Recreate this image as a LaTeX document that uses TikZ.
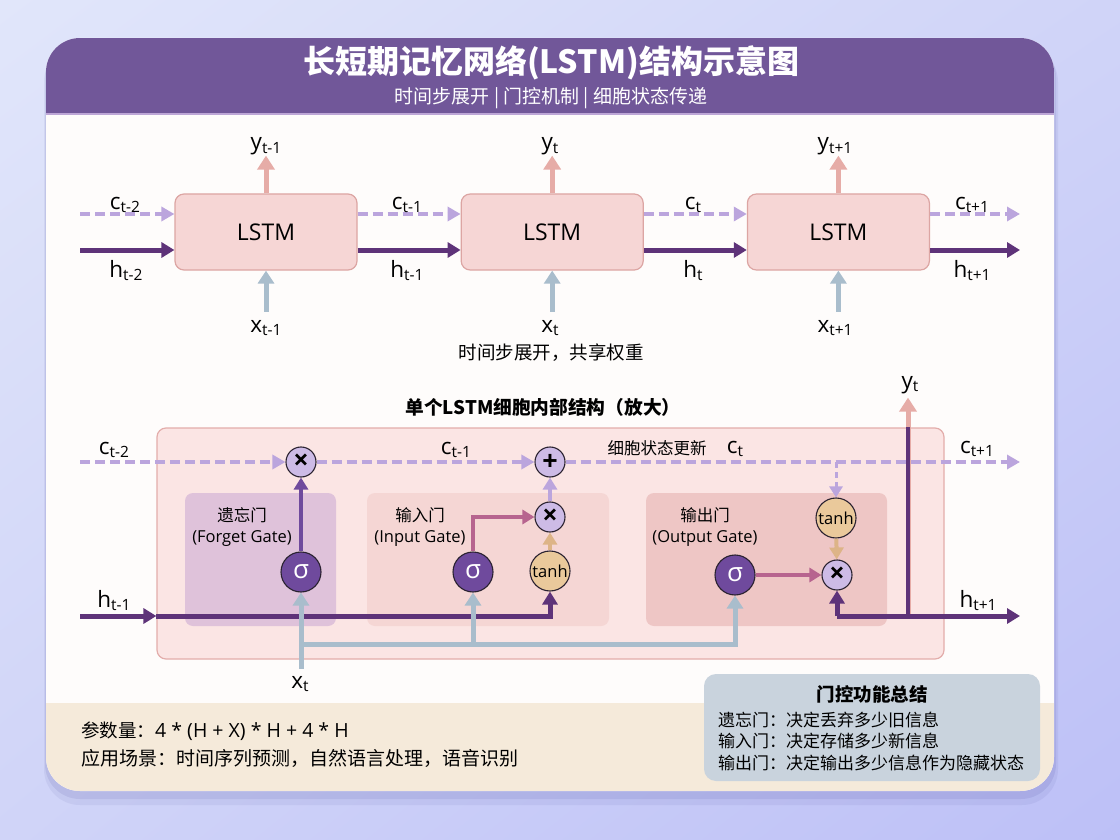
\documentclass[tikz,border=0pt]{standalone}
\usepackage{fontspec}
\setmainfont{Open Sans}
\newfontfamily\cjk{Noto Sans CJK SC}
\usepackage{tikz}
\usetikzlibrary{positioning,arrows.meta,calc,shadings}

\definecolor{bgtop}{HTML}{E1E6FA}
\definecolor{bgmid}{HTML}{D0D4F8}
\definecolor{bgbot}{HTML}{BDC0F7}
\definecolor{headpurple}{HTML}{715799}
\definecolor{headline}{HTML}{BDA6D6}
\definecolor{paper}{HTML}{FEFCFB}
\definecolor{footbeige}{HTML}{F5EADA}
\definecolor{lstmfill}{HTML}{F6D6D5}
\definecolor{lstmedge}{HTML}{DCA5A3}
\definecolor{cstate}{HTML}{BBA5DD}
\definecolor{hstate}{HTML}{5E3379}
\definecolor{yout}{HTML}{E6ACA7}
\definecolor{xin}{HTML}{A9BDCC}
\definecolor{cellfill}{HTML}{FBE5E4}
\definecolor{celledge}{HTML}{E3ADAB}
\definecolor{forgetfill}{HTML}{DFC2DA}
\definecolor{inputfill}{HTML}{F5D6D4}
\definecolor{outputfill}{HTML}{EEC6C5}
\definecolor{opfill}{HTML}{CDBBE6}
\definecolor{sigfill}{HTML}{6F4A9D}
\definecolor{tanhfill}{HTML}{EAC99B}
\definecolor{gatelink}{HTML}{B7648F}
\definecolor{tanhlink}{HTML}{DDB487}
\definecolor{sumfill}{HTML}{C9D3DD}
\definecolor{inkdark}{HTML}{2A2230}

\newcommand{\sublbl}[2]{#1\raisebox{-3pt}{\fontsize{15.5}{16}\selectfont #2}}

\begin{document}
\begin{tikzpicture}[
    x=1pt, y=-1pt,
    node distance=103pt,
    lstmbox/.style={
        draw=lstmedge,
        fill=lstmfill,
        line width=1.2pt,
        rounded corners=9pt,
        minimum width=182pt,
        minimum height=76pt,
        font=\fontsize{23}{26}\selectfont
    },
    lbl/.style={anchor=base, inner sep=0pt, font=\fontsize{22.5}{24}\selectfont},
    cjktxt/.style={inner sep=0pt, font=\cjk\fontsize{#1}{#1}\selectfont},
    hflow/.style={draw=hstate, line width=5pt, -{Triangle[length=13pt,width=15pt]}},
    cflow/.style={draw=cstate, line width=4pt, dash pattern=on 10pt off 5pt, -{Triangle[length=13pt,width=14pt]}},
    yflow/.style={draw=yout, line width=5pt, -{Triangle[length=14pt,width=17pt]}},
    xflow/.style={draw=xin, line width=5pt, -{Triangle[length=13pt,width=16pt]}},
    gatebox/.style={rounded corners=8pt, minimum height=133pt},
    opnode/.style={circle, draw=inkdark, line width=1.1pt, fill=opfill, minimum size=30pt, inner sep=0pt, font=\bfseries\fontsize{27}{27}\selectfont},
    signode/.style={circle, draw=inkdark, line width=1.1pt, fill=sigfill, text=white, minimum size=40pt, inner sep=0pt, font=\fontsize{26}{26}\selectfont},
    tanhnode/.style={circle, draw=inkdark, line width=1.1pt, fill=tanhfill, minimum size=40pt, inner sep=0pt, font=\fontsize{16.5}{16.5}\selectfont},
    gatelbl/.style={align=center, inner sep=0pt, font=\fontsize{16.5}{21}\selectfont},
    gateflow/.style={line width=4pt, -{Triangle[length=12pt,width=14pt]}},
    sumline/.style={anchor=west, inner sep=0pt, font=\cjk\fontsize{17}{17}\selectfont}
]

% background and card
\useasboundingbox (0,0) rectangle (1120,840);
\shade[upper left=bgtop, upper right=bgmid, lower left=bgmid, lower right=bgbot] (0,0) rectangle (1120,840);
\fill[blue!40!black, opacity=0.05, rounded corners=36pt] (44,46) rectangle (1058,805);
\fill[blue!40!black, opacity=0.07, rounded corners=35pt] (45,42) rectangle (1056,799);
\fill[paper, rounded corners=34pt] (46,38) rectangle (1054,791);
\begin{scope}
    \clip[rounded corners=34pt] (46,38) rectangle (1054,791);
    \fill[headpurple] (46,38) rectangle (1054,113);
    \fill[headline] (46,113) rectangle (1054,115.5);
    \fill[footbeige] (46,703) rectangle (1054,791);
\end{scope}

\node[text=white, font=\cjk\bfseries\fontsize{32}{36}\selectfont] (title) at (551,63) {长短期记忆网络(LSTM)结构示意图};
\node[text=white, cjktxt=19] (subtitle) at (551,98) {时间步展开 | 门控机制 | 细胞状态传递};

% unrolled chain
\node[lstmbox] (cellA) at (266,232) {LSTM};
\node[lstmbox, right=of cellA] (cellB) {LSTM};
\node[lstmbox, right=of cellB] (cellC) {LSTM};

\coordinate (cin) at (80,214);
\coordinate (hin) at (80,250);
\coordinate (cout) at (1020,214);
\coordinate (hout) at (1020,250);

\draw[cflow] (cin) -- (cin -| cellA.west);
\draw[hflow] (hin) -- (hin -| cellA.west);
\draw[cflow] ([yshift=18pt]cellA.east) -- ([yshift=18pt]cellB.west);
\draw[hflow] ([yshift=-18pt]cellA.east) -- ([yshift=-18pt]cellB.west);
\draw[cflow] ([yshift=18pt]cellB.east) -- ([yshift=18pt]cellC.west);
\draw[hflow] ([yshift=-18pt]cellB.east) -- ([yshift=-18pt]cellC.west);
\draw[cflow] (cout -| cellC.east) -- (cout);
\draw[hflow] (hout -| cellC.east) -- (hout);

\node[lbl] (cA) at (125,209) {\sublbl{c}{t-2}};
\node[lbl] (hA) at (126,277) {\sublbl{h}{t-2}};
\node[lbl] (cB) at (407,209) {\sublbl{c}{t-1}};
\node[lbl] (hB) at (407,277) {\sublbl{h}{t-1}};
\node[lbl] (cC) at (693,209) {\sublbl{c}{t}};
\node[lbl] (hC) at (693,277) {\sublbl{h}{t}};
\node[lbl] (cD) at (972,209) {\sublbl{c}{t+1}};
\node[lbl] (hD) at (972,277) {\sublbl{h}{t+1}};

\node[lbl] (yA) at (266,150) {\sublbl{y}{t-1}};
\node[lbl] (yB) at (550,150) {\sublbl{y}{t}};
\node[lbl] (yC) at (835,150) {\sublbl{y}{t+1}};
\node[lbl] (xA) at (266,332) {\sublbl{x}{t-1}};
\node[lbl] (xB) at (550,332) {\sublbl{x}{t}};
\node[lbl] (xC) at (835,332) {\sublbl{x}{t+1}};

\draw[yflow] (cellA.north) -- (cellA.north |- yA.south);
\draw[yflow] (cellB.north) -- (cellB.north |- yB.south);
\draw[yflow] (cellC.north) -- (cellC.north |- yC.south);
\draw[xflow, shorten <=8pt] (cellA.south |- xA.north) -- (cellA.south);
\draw[xflow, shorten <=8pt] (cellB.south |- xB.north) -- (cellB.south);
\draw[xflow, shorten <=8pt] (cellC.south |- xC.north) -- (cellC.south);

\node[cjktxt=18.5] (unrollcap) at (551,353) {时间步展开，共享权重};

% single cell, zoomed in
\node[font=\cjk\bfseries\fontsize{18.7}{18.7}\selectfont, inner sep=0pt] (celltitle) at (543,407) {单个LSTM细胞内部结构（放大）};
\node[draw=celledge, fill=cellfill, line width=1.2pt, rounded corners=9pt,
      minimum width=787pt, minimum height=231pt] (bigcell) at (550.5,543.5) {};
\node[gatebox, fill=forgetfill, minimum width=151pt] (fgbox) at (260.5,559.5) {};
\node[gatebox, fill=inputfill, minimum width=242pt] (igbox) at (488,559.5) {};
\node[gatebox, fill=outputfill, minimum width=241pt] (ogbox) at (766.5,559.5) {};

\node[gatelbl] (fglbl) at (242,527) {{\cjk 遗忘门}\\(Forget Gate)};
\node[gatelbl] (iglbl) at (420,527) {{\cjk 输入门}\\(Input Gate)};
\node[gatelbl] (oglbl) at (705,527) {{\cjk 输出门}\\(Output Gate)};

\node[opnode] (fmul) at (301,462) {×};
\node[opnode] (cadd) at (550,462) {+};
\node[opnode] (imul) at (550,517) {×};
\node[opnode] (omul) at (837,575) {×};
\node[signode] (fsig) at (301,572) {σ};
\node[signode] (isig) at (473,572) {σ};
\node[signode] (osig) at (735,575) {σ};
\node[tanhnode] (itanh) at (550,571) {tanh};
\node[tanhnode] (otanh) at (836,518) {tanh};

% cell state
\coordinate (cellcin) at (80,462);
\coordinate (cellcout) at (1020,462);
\draw[cflow] (cellcin) -- (fmul);
\draw[cflow] (fmul) -- (cadd);
\draw[cflow] (cadd) -- (cellcout);
\draw[cflow, line width=3pt, dash pattern=on 6pt off 4pt, -{Triangle[length=11pt,width=13pt]}] (otanh.north |- cellcout) -- (otanh);

\node[lbl] (cellcA) at (114,454) {\sublbl{c}{t-2}};
\node[lbl] (cellcB) at (456,454) {\sublbl{c}{t-1}};
\node[cjktxt=16.5] (cupdate) at (657,448) {细胞状态更新};
\node[lbl] (cellcC) at (735,453) {\sublbl{c}{t}};
\node[lbl] (cellcD) at (977,453) {\sublbl{c}{t+1}};

% gates
\draw[gateflow, draw=sigfill] (fsig) -- (fmul);
\draw[gateflow, draw=gatelink] (isig.north) |- (imul);
\draw[gateflow, draw=tanhlink] (itanh) -- (imul);
\draw[gateflow, draw=cstate] (imul) -- (cadd);
\draw[gateflow, draw=tanhlink] (otanh) -- (omul);
\draw[gateflow, draw=gatelink] (osig) -- (omul);

% hidden state
\coordinate (cellhin) at (80,616);
\coordinate (cellhout) at (1020,616);
\coordinate (yjoin) at (908,616);
\node[lbl] (ytlbl) at (910,388) {\sublbl{y}{t}};
\node[lbl] (cellhA) at (114,607) {\sublbl{h}{t-1}};
\node[lbl] (cellhB) at (978,607) {\sublbl{h}{t+1}};

\draw[yflow, shorten >=4pt] (yjoin) -- (yjoin |- ytlbl.south);
\draw[draw=hstate, line width=4.5pt] (yjoin) -- (yjoin |- bigcell.north);
\draw[hflow] (cellhin) -- (bigcell.west |- cellhin);
\draw[hflow] (bigcell.west |- cellhin) -| (itanh);
\draw[hflow] (omul |- cellhout) -- (cellhout);
\draw[hflow] (omul |- cellhout) -- (omul);

% input x_t
\node[lbl] (xtlbl) at (300,688) {\sublbl{x}{t}};
\coordinate (xbus) at (301,644);
\draw[xflow, shorten <=7pt] (fsig |- xtlbl.north) -- (fsig);
\draw[xflow] (xbus) -| (osig);
\draw[xflow] (isig |- xbus) -- (isig);

% footer
\node[anchor=west, inner sep=0pt, font=\fontsize{19.5}{19.5}\selectfont] (paramline) at (81,731) {{\cjk\fontsize{18.5}{18.5}\selectfont 参数量：}4 * (H + X) * H + 4 * H};
\node[cjktxt=19, anchor=west] (appline) at (81,758) {应用场景：时间序列预测，自然语言处理，语音识别};

\node[fill=sumfill, rounded corners=12pt, minimum width=336pt, minimum height=107pt] (gatesum) at (872,727.5) {};
\node[font=\cjk\bfseries\fontsize{18.5}{18.5}\selectfont, inner sep=0pt] (sumtitle) at (872,694) {门控功能总结};
\node[sumline] (sumforget) at (718,720) {遗忘门：决定丢弃多少旧信息};
\node[sumline] (suminput) at (718,741) {输入门：决定存储多少新信息};
\node[sumline] (sumoutput) at (718,763) {输出门：决定输出多少信息作为隐藏状态};

\end{tikzpicture}
\end{document}
